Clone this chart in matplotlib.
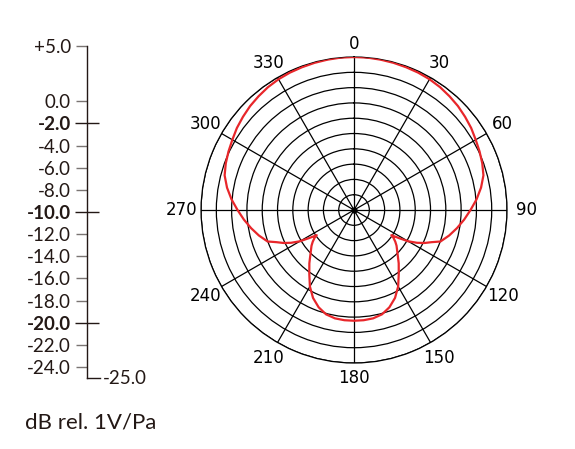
import numpy as np
import matplotlib
matplotlib.use("Agg")
import matplotlib.pyplot as plt
from matplotlib.ticker import FixedLocator

# polar response (right half, the pattern is symmetric)
angles_half = [0, 5, 10, 15, 20, 25, 30, 35, 40, 45, 50, 55, 60, 65, 70, 75,
               80, 85, 90, 95, 100, 105, 110, 112.5, 115, 117.5, 120, 122,
               124, 125, 127.5, 130, 135, 140, 145, 150, 155, 160, 165, 170,
               175, 180]
level_half = [5.0, 5.0, 4.94, 4.88, 4.8, 4.73, 4.61, 4.41, 4.12, 3.82, 3.43,
              3.04, 2.55, 2.16, 1.76, 1.27, 0.29, -0.88, -2.16, -3.33, -4.51,
              -5.69, -6.96, -8.53, -9.71, -11.08, -12.75, -14.61, -16.18,
              -15.59, -14.8, -14.12, -12.94, -11.37, -9.71, -7.69, -5.98,
              -4.71, -3.82, -3.43, -3.31, -3.29]

angle_ticks = [0, 30, 60, 90, 120, 150, 180, 210, 240, 270, 300, 330]
ring_levels = [-22, -19, -16, -13, -10, -7, -4, -1, 2, 5]

scale_minor = [5, 0, -4, -6, -8, -12, -14, -16, -18, -22, -24]
scale_major = [-2, -10, -20]

ink = "#231815"
red = "#e8262a"

fig = plt.figure(figsize=(5.75, 4.49), dpi=100)

# ---- polar pattern
ax = fig.add_axes([0.3496, 0.1915, 0.5322, 0.6815], projection="polar")
ax.set_theta_zero_location("N")
ax.set_theta_direction(-1)
ax.set_rlim(-25, 5)
ax.set_rticks(ring_levels)
ax.set_yticklabels([])
ax.set_xticks(np.deg2rad(angle_ticks))
ax.set_xticklabels([])
ax.tick_params(axis="x", length=0)
ax.grid(True, color="black", linewidth=0.9)
ax.spines["polar"].set_color("black")
ax.spines["polar"].set_linewidth(0.9)

# angle labels centred just outside the outer ring (a bit wider at the sides)
for a in angle_ticks:
    t = np.deg2rad(a)
    extra = 0.0 if a == 0 else 0.4 + 0.8 * abs(np.sin(t))
    ax.text(t, 7.6 + extra, str(a), ha="center", va="center",
            fontsize=12, family="DejaVu Sans", color="black", clip_on=False)

th = np.deg2rad(angles_half + [360 - a for a in angles_half[::-1]])
lv = level_half + level_half[::-1]
ax.plot(th, lv, color=red, linewidth=1.6, zorder=5)
ax.plot([0], [-25], "o", color="black", markersize=3.5, zorder=6)

# ---- dB scale on the left
sc = fig.add_axes([0.1513, 0.1581, 0.0226, 0.7394])
sc.set_ylim(-25, 5)
sc.set_xlim(0, 1)
for s in ["top", "right"]:
    sc.spines[s].set_visible(False)
sc.spines["left"].set_color(ink)
sc.spines["bottom"].set_color(ink)
sc.spines["left"].set_linewidth(1.0)
sc.spines["bottom"].set_linewidth(1.0)
sc.set_xticks([])
sc.patch.set_alpha(0)

lab_font = dict(fontsize=13.5, family="Lato", color=ink)
sc.yaxis.set_major_locator(FixedLocator(scale_major))
sc.yaxis.set_minor_locator(FixedLocator(scale_minor))
sc.set_yticklabels(["%.1f" % v for v in scale_major], fontweight="bold",
                   **lab_font)
sc.set_yticklabels([("+%.1f" % v) if v > 0 else "%.1f" % v for v in scale_minor],
                   minor=True, **lab_font)
sc.tick_params(axis="y", which="minor", length=8, width=1.0, color="#7a7472",
               pad=3.5)
sc.tick_params(axis="y", which="major", direction="inout", length=17,
               width=1.0, color=ink, pad=3)
sc.text(1.2, -25, "-25.0", transform=sc.get_yaxis_transform(), ha="left",
        va="center", **lab_font)

fig.text(0.043, 0.06, "dB rel. 1V/Pa", fontsize=16, family="Lato", color=ink,
         ha="left", va="center")

fig.savefig("out.png", dpi=100)
